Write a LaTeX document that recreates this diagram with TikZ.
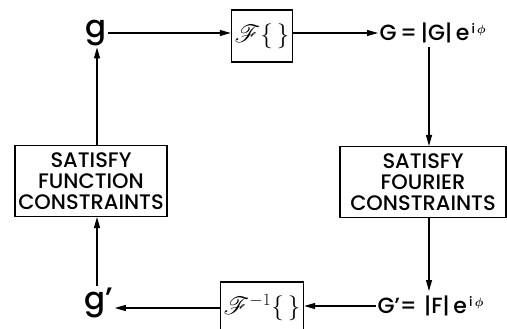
\documentclass[tikz,border=0pt]{standalone}
\usepackage{fontspec}
\usepackage{mathrsfs}
\setmainfont{Poppins}[BoldFont={Poppins Medium}]
\usetikzlibrary{arrows.meta}

\newcommand{\eiphi}{e\raisebox{0.55ex}{\fontsize{13}{13}\selectfont\boldmath\,i\,$\phi$}}

\begin{document}
\begin{tikzpicture}[x=1pt, y=-1pt, >={Triangle[length=11pt,width=6pt]}, line width=1.1pt,
  sym/.style={inner sep=1pt, font=\fontsize{31}{31}\selectfont\bfseries},
  eqn/.style={inner sep=1pt, anchor=west, font=\fontsize{22}{22}\selectfont\bfseries},
  opbox/.style={draw, minimum width=59pt, minimum height=52pt, font=\fontsize{27}{27}\selectfont},
  cbox/.style={draw, align=center, minimum height=71pt, inner sep=1pt, font=\fontsize{21}{21}\selectfont\bfseries}]
\useasboundingbox (0,0) rectangle (507,329);

% Top row
\node[sym] (g) at (96,33) {g};
\node[opbox] (ft) at (262,36) {$\mathscr{F}\{\,\}$};
\node[eqn] (G) at (378,33) {G\,=\,|G|\,\eiphi};

% Constraint boxes
\node[cbox, minimum width=152pt] (func) at (91,181) {SATISFY\\FUNCTION\\CONSTRAINTS};
\node[cbox, minimum width=166pt] (fourier) at (423,182) {SATISFY\\FOURIER\\CONSTRAINTS};

% Bottom row
\node[sym] (gp) at (99,303) {g'};
\node[opbox] (fti) at (262,308) {$\mathscr{F}^{-1}\{\,\}$};
\node[eqn] (Gp) at (376,306) {G'=\,\,|F|\,\eiphi};

% Points under |G| and above |F|
\coordinate (absG) at (429,47);
\coordinate (absF) at (429,291);

% Connectors
\draw[->] (g) -- (g -| ft.west);
\draw[->] (ft.east |- G) -- (G.west);
\draw[->] (absG) -- (absG |- fourier.north);
\draw[->] (absG |- fourier.south) -- (absF);
\draw[->] (Gp.west) -- (Gp.west -| fti.east);
\draw[->] (fti.west) -- (fti.west -| gp.east);
\draw[->] (gp.north -| 97,0) -- (func.south -| 97,0);
\draw[->] (func.north -| 97,0) -- (g.south -| 97,0);
\end{tikzpicture}
\end{document}
